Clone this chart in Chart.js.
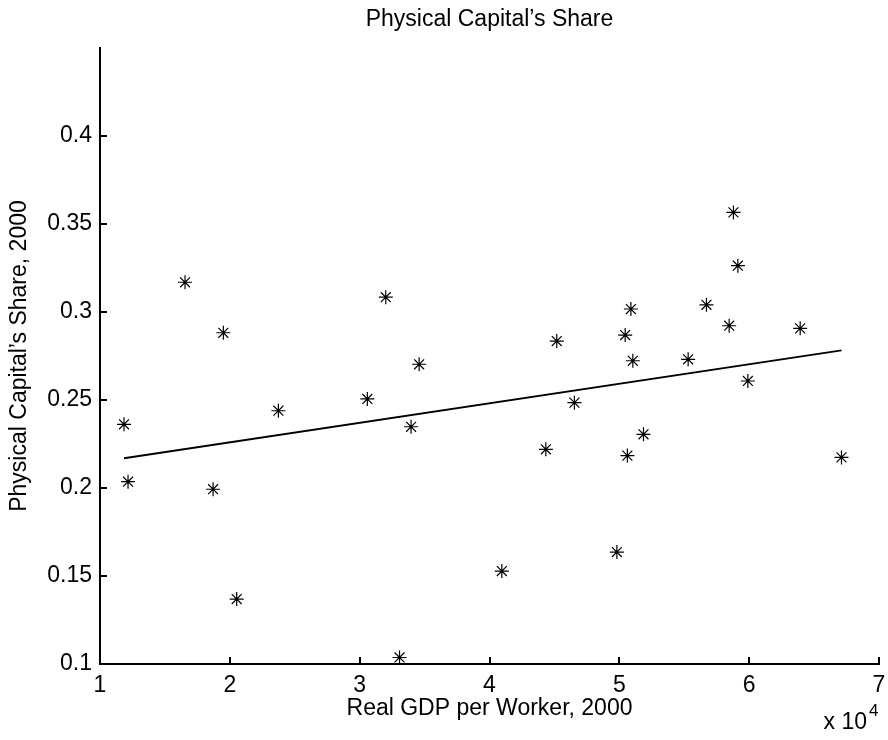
<!DOCTYPE html>
<html>
<head>
<meta charset="utf-8">
<title>Physical Capital's Share</title>
<script src="https://cdn.jsdelivr.net/npm/chart.js@4/dist/chart.umd.min.js"></script>
<style>
  html, body { margin: 0; padding: 0; background: #fff; }
  #wrap { width: 888px; height: 740px; }
</style>
</head>
<body>
<div id="wrap"><canvas id="chart" width="888" height="740"></canvas></div>
<script>
// Real GDP per worker in 2000 (dollars) and physical capital's share, one entry per country
const gdpPerWorker = [
  11850, 12160, 16550, 18710, 19500, 20530, 23740, 30590, 32010, 33070,
  33960, 34580, 40950, 44340, 45180, 46540, 49810, 50450, 50620, 50890,
  51040, 51860, 55300, 56710, 58460, 58790, 59130, 59900, 63930, 67110
];
const capitalShare = [
  0.2362, 0.2036, 0.3169, 0.1993, 0.2882, 0.1369, 0.2439, 0.2506, 0.3084, 0.1037,
  0.2348, 0.2703, 0.1528, 0.2220, 0.2835, 0.2485, 0.1636, 0.2869, 0.2184, 0.3017,
  0.2723, 0.2305, 0.2731, 0.3041, 0.2922, 0.3566, 0.3263, 0.2608, 0.2907, 0.2174
];

// Least-squares trend line, drawn between the smallest and largest GDP values
const fitX = [11850, 67110];
const fitY = [0.2169, 0.2782];

// Axis ticks
const xTicks = [10000, 20000, 30000, 40000, 50000, 60000, 70000];
const yTicks = [0.1, 0.15, 0.2, 0.25, 0.3, 0.35, 0.4];

const FONT = '"Liberation Sans", Arial, Helvetica, sans-serif';
const FS = 23;

const points = gdpPerWorker.map((g, i) => ({ x: g, y: capitalShare[i] }));
const fitLine = fitX.map((g, i) => ({ x: g, y: fitY[i] }));

// Ticks point inward from the axis lines; title and the x10^4 exponent are drawn as text
const decorations = {
  id: 'decorations',
  afterDraw(chart) {
    const ctx = chart.ctx;
    const xs = chart.scales.x, ys = chart.scales.y;
    const area = chart.chartArea;
    ctx.save();
    ctx.strokeStyle = '#000';
    ctx.lineWidth = 2;
    ctx.beginPath();
    xs.ticks.forEach(t => {
      const px = Math.round(xs.getPixelForValue(t.value));
      ctx.moveTo(px, area.bottom);
      ctx.lineTo(px, area.bottom - 7);
    });
    ys.ticks.forEach(t => {
      const py = Math.round(ys.getPixelForValue(t.value));
      ctx.moveTo(area.left, py);
      ctx.lineTo(area.left + 7, py);
    });
    ctx.stroke();

    ctx.fillStyle = '#000';
    ctx.font = FS + 'px ' + FONT;
    ctx.textAlign = 'center';
    ctx.textBaseline = 'middle';
    ctx.fillText("Physical Capital\u2019s Share", (area.left + area.right) / 2, 20);

    ctx.textAlign = 'right';
    ctx.textBaseline = 'alphabetic';
    ctx.fillText('x 10', area.right - 12, 729);
    ctx.font = '17px ' + FONT;
    ctx.textAlign = 'left';
    ctx.fillText('4', area.right - 10, 716);
    ctx.restore();
  }
};

new Chart(document.getElementById('chart'), {
  type: 'scatter',
  data: {
    datasets: [
      {
        type: 'scatter',
        label: 'Countries',
        data: points,
        pointStyle: 'star',
        pointRadius: 7,
        pointHoverRadius: 7,
        borderColor: '#000',
        backgroundColor: '#000',
        borderWidth: 1.2,
        order: 2
      },
      {
        type: 'line',
        label: 'Trend',
        data: fitLine,
        borderColor: '#000',
        borderWidth: 1.8,
        pointRadius: 0,
        fill: false,
        tension: 0,
        order: 1
      }
    ]
  },
  options: {
    responsive: false,
    animation: false,
    devicePixelRatio: 1,
    layout: { padding: { top: 48, right: 9, left: 0, bottom: 0 } },
    plugins: {
      legend: { display: false },
      title: { display: false },
      tooltip: { enabled: false }
    },
    scales: {
      x: {
        type: 'linear',
        min: 10000,
        max: 70000,
        afterBuildTicks(scale) { scale.ticks = xTicks.map(v => ({ value: v })); },
        afterFit(scale) {
          scale.height = 76;
          scale.paddingLeft = 0;
          scale.paddingRight = 0;
        },
        ticks: {
          color: '#000',
          font: { family: FONT, size: FS },
          padding: 8,
          maxRotation: 0,
          callback: v => String(v / 10000)
        },
        grid: { display: false, drawTicks: false },
        border: { display: true, color: '#000', width: 2 },
        title: {
          display: true,
          text: 'Real GDP per Worker, 2000',
          color: '#000',
          font: { family: FONT, size: FS },
          padding: { top: 0, bottom: 18 }
        }
      },
      y: {
        type: 'linear',
        min: 0.1,
        max: 0.45,
        afterBuildTicks(scale) { scale.ticks = yTicks.map(v => ({ value: v })); },
        afterFit(scale) {
          scale.width = 100;
          scale.paddingTop = 0;
          scale.paddingBottom = 0;
        },
        ticks: {
          color: '#000',
          font: { family: FONT, size: FS },
          padding: 8,
          callback: v => String(+v.toFixed(2))
        },
        grid: { display: false, drawTicks: false },
        border: { display: true, color: '#000', width: 2 },
        title: {
          display: true,
          text: 'Physical Capital\u2019s Share, 2000',
          color: '#000',
          font: { family: FONT, size: FS },
          padding: { top: 6, bottom: 0 }
        }
      }
    }
  },
  plugins: [decorations]
});
</script>
</body>
</html>
